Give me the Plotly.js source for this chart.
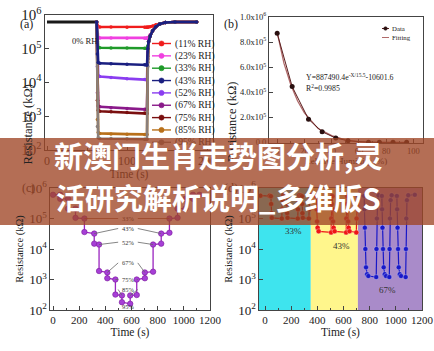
<!DOCTYPE html>
<html><head><meta charset="utf-8">
<script src="https://cdn.plot.ly/plotly-3.0.1.min.js"></script>
<style>html,body{margin:0;padding:0;background:#fff;}#chart{width:434px;height:351px;}</style>
</head><body><div id="chart"></div>
<script>
// ---------- Panel (a): resistance vs time at each RH ----------
const rhLabels = ['(11% RH)','(23% RH)','(33% RH)','(43% RH)','(52% RH)','(67% RH)','(75% RH)','(85% RH)','(95% RH)'];
const rhColors = ['#f01c1c','#f040e0','#1f9a2a','#1a1f80','#8a3df0','#8a1a8a','#7a0f0f','#b8701a','#8a7f7a'];
const t0 = [0, 10, 20, 30, 40, 50, 60, 62];
const r0 = [6.2e5, 6.2e5, 6.2e5, 6.1e5, 6.2e5, 6.2e5, 6.2e5, 6.2e5];
const tA = [62, 63, 64, 66, 80, 100, 122, 124, 125, 126, 127, 129, 132, 136, 141, 148, 160, 187];
const rA11 = [6.2e5, 4.7e5, 4.45e5, 4.4e5, 4.4e5, 4.35e5, 4.3e5, 4.3e5, 4.3e5, 4.35e5, 4.4e5, 4.5e5, 4.7e5, 5.1e5, 5.5e5, 6e5, 6.2e5, 6.2e5];
const rA23 = [6.2e5, 2.8e5, 2.15e5, 2.1e5, 2.08e5, 2.05e5, 2.03e5, 2.03e5, 2.03e5, 2.1e5, 2.2e5, 2.6e5, 3.4e5, 4.5e5, 5.4e5, 6e5, 6.2e5, 6.2e5];
const rA33 = [6.2e5, 1.6e5, 1.1e5, 1.07e5, 1.06e5, 1.05e5, 1.04e5, 1.04e5, 1.04e5, 1.2e5, 1.6e5, 2.4e5, 3.4e5, 4.5e5, 5.4e5, 6e5, 6.2e5, 6.2e5];
const rA43 = [6.2e5, 7e4, 3.9e4, 3.7e4, 3.6e4, 3.45e4, 3.35e4, 3.3e4, 3.3e4, 1e5, 1.6e5, 2.4e5, 3.4e5, 4.5e5, 5.4e5, 6e5, 6.2e5, 6.2e5];
const rA52 = [6.2e5, 3e4, 1.6e4, 1.5e4, 1.4e4, 1.3e4, 1.22e4, 1.2e4, 1.2e4, 8e4, 1.6e5, 2.4e5, 3.4e5, 4.5e5, 5.4e5, 6e5, 6.2e5, 6.2e5];
const rA67 = [6.2e5, 5e3, 2e3, 1.9e3, 1.8e3, 1.7e3, 1.6e3, 1.6e3, 1.6e3, 6e4, 1.6e5, 2.4e5, 3.4e5, 4.5e5, 5.4e5, 6e5, 6.2e5, 6.2e5];
const rA75 = [6.2e5, 3e3, 1.5e3, 1.4e3, 1.35e3, 1.3e3, 1.25e3, 1.2e3, 1.2e3, 5e4, 1.6e5, 2.4e5, 3.4e5, 4.5e5, 5.4e5, 6e5, 6.2e5, 6.2e5];
const rA85 = [6.2e5, 8e2, 3.3e2, 3.1e2, 3e2, 2.95e2, 2.9e2, 2.9e2, 2.9e2, 4e4, 1.6e5, 2.4e5, 3.4e5, 4.5e5, 5.4e5, 6e5, 6.2e5, 6.2e5];
const rA95 = [6.2e5, 5e2, 2.3e2, 2.2e2, 2.2e2, 2.15e2, 2.1e2, 2.1e2, 2.1e2, 3e4, 1.6e5, 2.4e5, 3.4e5, 4.5e5, 5.4e5, 6e5, 6.2e5, 6.2e5];
const seriesA = [rA11, rA23, rA33, rA43, rA52, rA67, rA75, rA85, rA95];
const ticksA = [0, 100, 200];

// ---------- Panel (b): resistance vs humidity ----------
const rhB = [0, 11, 23, 33, 43, 52, 67, 75, 85, 95];
const resB = [8.7e5, 4.45e5, 1.85e5, 8.5e4, 3.4e4, 1.3e4, 1.6e3, 1.2e3, 3e2, 2e2];
const fitX = [0, 5, 10, 15, 20, 25, 30, 40, 50, 60, 70, 80, 90, 95];
const fitY = [8.77e5, 6.3e5, 4.6e5, 3.3e5, 2.35e5, 1.7e5, 1.1e5, 5.4e4, 2e4, 4e3, -2e3, -6e3, -8e3, -9e3];
const ticksBy = [0, 2e5, 4e5, 6e5, 8e5, 1e6];
const tickTextBy = ['0.0', '2.0x10<sup>5</sup>', '4.0x10<sup>5</sup>', '6.0x10<sup>5</sup>', '8.0x10<sup>5</sup>', '1.0x10<sup>6</sup>'];
const ticksBx = [0, 20, 40, 60, 80, 100];

// ---------- Panel (c): stepwise RH up and down ----------
const tC = [0, 55, 55, 115, 115, 172, 172, 240, 240, 315, 315, 352, 352, 415, 415, 477, 477, 527, 527, 590, 590, 640, 640, 702, 702, 765, 765, 827, 827, 890, 890, 952, 952, 1012, 1012, 1070, 1070, 1120];
const rC = [6e5, 6e5, 4.4e5, 4.4e5, 2.1e5, 2.1e5, 1.05e5, 1.0e5, 3.6e4, 3.2e4, 1.5e4, 1.4e4, 1.9e3, 1.7e3, 1.1e3, 1.0e3, 3.2e2, 3e2, 1.8e2, 1.6e2, 3e2, 3.1e2, 1e3, 1.1e3, 1.7e3, 1.8e3, 1.4e4, 1.5e4, 3.2e4, 3.4e4, 1e5, 1.05e5, 2.1e5, 2.1e5, 4.4e5, 4.4e5, 6e5, 6e5];
const stepLabels = ['33%', '43%', '52%', '67%', '75%', '85%', '95%'];
const stepLabelR = [1e5, 4.7e4, 1.67e4, 3.5e3, 1e3, 4.7e2, 1.28e2];
const stepLeftT = [240, 315, 352, 415, 477, 527, null];
const stepRightT = [890, 827, 765, 702, 640, 590, null];
const stepLevel = [1.0e5, 3.2e4, 1.4e4, 1.7e3, 1.0e3, 3.0e2, null];
const stepLabelT = 573;

// ---------- Panel (d): repeated cycles ----------
const d33t = [-35, 35, 45, 47, 49, 52, 128, 130, 133, 140, 155, 165, 167, 169, 172, 250, 252, 255, 262, 272, 282, 284, 286, 289, 335, 337, 340, 347];
const d33r = [5.6e5, 5.6e5, 5.4e5, 3e5, 1.5e5, 1.05e5, 1.0e5, 2e5, 4e5, 5.8e5, 5.7e5, 5.4e5, 3e5, 1.5e5, 1.05e5, 1.0e5, 2e5, 4e5, 5.8e5, 5.7e5, 5.4e5, 3e5, 1.5e5, 1.05e5, 1.0e5, 2e5, 4e5, 5.8e5];
const d43t = [352, 392, 395, 398, 402, 410, 505, 507, 510, 513, 515, 517, 520, 524, 532, 620, 622, 625, 628, 630, 632, 635, 639, 646, 698, 700, 703, 710];
const d43r = [5.6e5, 5.5e5, 2e5, 8e4, 5e4, 3.8e4, 3.5e4, 1e5, 3e5, 5.5e5, 5.4e5, 2e5, 8e4, 5e4, 3.8e4, 3.5e4, 1e5, 3e5, 5.5e5, 5.4e5, 2e5, 8e4, 5e4, 3.8e4, 3.5e4, 1e5, 3e5, 5.5e5];
const d67t = [712, 758, 760, 763, 767, 772, 780, 790, 850, 852, 855, 860, 868, 893, 895, 898, 902, 907, 915, 925, 950, 952, 955, 960, 968, 1008, 1010, 1013, 1017, 1022, 1030, 1040, 1075, 1077, 1080, 1085, 1095, 1145];
const d67r = [5.6e5, 5.5e5, 2e5, 5e4, 1e4, 2.5e3, 1.5e3, 1.3e3, 1.2e3, 1e4, 1e5, 4e5, 5.8e5, 5.5e5, 2e5, 5e4, 1e4, 2.5e3, 1.5e3, 1.3e3, 1.2e3, 1e4, 1e5, 4e5, 5.8e5, 5.5e5, 2e5, 5e4, 1e4, 2.5e3, 1.5e3, 1.3e3, 1.2e3, 1e4, 1e5, 4e5, 5.8e5, 6e5];
const bandEdges = [-46, 350, 710, 1200];
const bandColors = ['#3ee4ee', '#fff68c', '#a98bc9'];
const bandLabels = ['33%', '43%', '67%'];
const bandLabelT = [218, 586, 936];
const bandLabelR = [4e4, 1.3e4, 4.4e2];

// ---------- banner ----------
const bannerLines = ['新澳门生肖走势图分析,灵', '活研究解析说明_多维版S'];

// ---------- helpers ----------
const W = 434, H = 351;
const px = v => v / W;
const py = v => 1 - v / H;
const serif = 'Liberation Serif, Times New Roman, serif';
const under = '#833d24';   // dark text tinted by the overlying banner
const L10 = Math.log10;
const logFrac = v => (L10(v) - 2) / 4;   // position inside a 10^2..10^6 log axis

function axis(extra) {
  return Object.assign({
    showline: true, mirror: true, linecolor: '#444', linewidth: 1,
    ticks: 'inside', ticklen: 4, tickcolor: '#444', showgrid: false, zeroline: false,
    tickfont: {family: serif, size: 11, color: '#222'}
  }, extra);
}

const traces = [];
// (a)
traces.push({x: t0, y: r0, xaxis: 'x', yaxis: 'y', mode: 'lines', line: {color: '#1a1a1a', width: 3.2}, name: '0% RH', showlegend: false});
[0, 1, 2, 4, 5, 6, 7, 8, 3].forEach(i => {
  traces.push({x: tA, y: seriesA[i], xaxis: 'x', yaxis: 'y', mode: 'lines+markers', name: rhLabels[i],
    line: {color: rhColors[i], width: 2.6}, marker: {size: 3.5, color: rhColors[i]}, showlegend: false});
});
// (b)
traces.push({x: fitX, y: fitY, xaxis: 'x2', yaxis: 'y2', mode: 'lines', name: 'Fitting', line: {color: '#b06a6a', width: 1.3}, showlegend: false});
traces.push({x: rhB, y: resB, xaxis: 'x2', yaxis: 'y2', mode: 'lines+markers', name: 'Data', line: {color: '#5a1e1e', width: 1}, marker: {size: 5, color: '#2a1010'}, showlegend: false});
// (c)
traces.push({x: tC, y: rC, xaxis: 'x3', yaxis: 'y3', mode: 'lines+markers', name: 'RH steps',
  line: {color: '#9a25c0', width: 1.3}, marker: {size: 5.5, color: '#a63fd6', line: {color: '#7a1a9a', width: 0.6}}, showlegend: false});
// (d)
[[d33t, d33r, '#7a0a0a'], [d43t, d43r, '#ee1515'], [d67t, d67r, '#1818c8']].forEach(([t, r, c], k) => {
  traces.push({x: t, y: r, xaxis: 'x4', yaxis: 'y4', mode: 'lines+markers', name: bandLabels[k],
    line: {color: c, width: 1.2}, marker: {size: 5, color: c, line: {color: 'rgba(255,255,255,0.5)', width: 0.6}}, showlegend: false});
});

const shapes = [];
const annotations = [];
// (d) coloured bands
for (let k = 0; k < bandColors.length; k++) {
  shapes.push({type: 'rect', xref: 'x4', yref: 'y4 domain', x0: bandEdges[k], x1: bandEdges[k + 1], y0: 0, y1: 1,
    fillcolor: bandColors[k], line: {width: 0}, layer: 'below'});
}
// (c) guide lines from each step label to the matching plateau ends
stepLabels.forEach((lab, i) => {
  if (stepLeftT[i] === null) return;
  const c = i === 0 ? '#8f4830' : '#666';
  shapes.push({type: 'line', xref: 'x3', yref: 'y3 domain', x0: stepLabelT - 75, y0: logFrac(stepLabelR[i]), x1: stepLeftT[i], y1: logFrac(stepLevel[i]),
    line: {color: c, width: 0.8}, layer: 'above'});
  shapes.push({type: 'line', xref: 'x3', yref: 'y3 domain', x0: stepLabelT + 75, y0: logFrac(stepLabelR[i]), x1: stepRightT[i], y1: logFrac(stepLevel[i]),
    line: {color: c, width: 0.8}, layer: 'above'});
});
// (a) legend (drawn manually, compact spacing)
rhLabels.forEach((lab, i) => {
  const y = 43.5 + 12.35 * i;
  shapes.push({type: 'line', xref: 'paper', yref: 'paper', x0: px(152), x1: px(171), y0: py(y), y1: py(y), line: {color: rhColors[i], width: 1.4}, layer: 'above'});
  shapes.push({type: 'circle', xref: 'paper', yref: 'paper', xsizemode: 'pixel', ysizemode: 'pixel', xanchor: px(161.5), yanchor: py(y),
    x0: -2.6, x1: 2.6, y0: -2.6, y1: 2.6, fillcolor: rhColors[i], line: {color: rhColors[i], width: 0.5}, layer: 'above'});
  annotations.push({xref: 'paper', yref: 'paper', x: px(172.5), y: py(y), xanchor: 'left', yanchor: 'middle', showarrow: false,
    text: lab, font: {family: serif, size: 9.6, color: y > 138 ? under : '#222'}});
});
// (b) legend
shapes.push({type: 'line', xref: 'paper', yref: 'paper', x0: px(382), x1: px(389), y0: py(28.5), y1: py(28.5), line: {color: '#5a1e1e', width: 1}, layer: 'above'});
shapes.push({type: 'circle', xref: 'paper', yref: 'paper', xsizemode: 'pixel', ysizemode: 'pixel', xanchor: px(385.5), yanchor: py(28.5),
  x0: -1.8, x1: 1.8, y0: -1.8, y1: 1.8, fillcolor: '#2a1010', line: {color: '#2a1010', width: 0.5}, layer: 'above'});
shapes.push({type: 'line', xref: 'paper', yref: 'paper', x0: px(382), x1: px(389), y0: py(37.5), y1: py(37.5), line: {color: '#b06a6a', width: 1}, layer: 'above'});
annotations.push({xref: 'paper', yref: 'paper', x: px(390), y: py(28.5), xanchor: 'left', yanchor: 'middle', showarrow: false, text: 'Data', font: {family: serif, size: 6.8, color: '#222'}});
annotations.push({xref: 'paper', yref: 'paper', x: px(390), y: py(37.5), xanchor: 'left', yanchor: 'middle', showarrow: false, text: 'Fitting', font: {family: serif, size: 6.8, color: '#222'}});

// y-axis titles of the top row (placed close to the tick labels as in the original)
annotations.push({xref: 'paper', yref: 'paper', x: px(18), y: py(82.5), textangle: -90, showarrow: false, text: 'Resistance (kΩ)',
  font: {family: serif, size: 12.5, color: '#222'}});
annotations.push({xref: 'paper', yref: 'paper', x: px(232), y: py(80), textangle: -90, showarrow: false, text: 'Resistance (kΩ)',
  font: {family: serif, size: 12.5, color: '#222'}});

// panel letters
[['(a)', 18, 15, '#222'], ['(b)', 231, 15, '#222'], ['(c)', 20, 188, under], ['(d)', 231, 188, under]].forEach(([t, x, y, c]) => {
  annotations.push({xref: 'paper', yref: 'paper', x: px(x), y: py(y), showarrow: false, text: t, font: {family: serif, size: 12, color: c}});
});
annotations.push({xref: 'paper', yref: 'paper', x: px(70), y: py(33.5), showarrow: false, text: '0% RH', font: {family: serif, size: 8.6, color: '#222'}});
annotations.push({xref: 'paper', yref: 'paper', x: px(304), y: py(70), xanchor: 'left', showarrow: false,
  text: 'Y=887490.4e<sup>-X/15.5</sup>-10601.6', font: {family: serif, size: 7.8, color: '#222'}});
annotations.push({xref: 'paper', yref: 'paper', x: px(304), y: py(80.5), xanchor: 'left', showarrow: false,
  text: 'R<sup>2</sup>=0.9985', font: {family: serif, size: 7.8, color: '#222'}});

// (c) step labels
stepLabels.forEach((lab, i) => {
  annotations.push({xref: 'x3', yref: 'y3', x: stepLabelT, y: L10(stepLabelR[i]), showarrow: false, text: lab,
    font: {family: serif, size: 6.4, color: i === 0 ? under : '#333'}});
});
// (d) band labels
bandLabels.forEach((lab, i) => {
  annotations.push({xref: 'x4', yref: 'y4', x: bandLabelT[i], y: L10(bandLabelR[i]), showarrow: false, text: lab,
    font: {family: serif, size: 9, color: '#333'}});
});

// overlay banner
shapes.push({type: 'rect', xref: 'paper', yref: 'paper', x0: 0, x1: 1, y0: py(225), y1: py(138),
  fillcolor: 'rgba(159,69,37,0.78)', line: {width: 0}, layer: 'above'});
annotations.push({xref: 'paper', yref: 'paper', x: px(217.5), y: py(155), showarrow: false, text: '<b>' + bannerLines[0] + '</b>',
  font: {family: 'Noto Sans CJK SC, sans-serif', size: 29, color: '#ffffff'}});
annotations.push({xref: 'paper', yref: 'paper', x: px(218.5), y: py(197), showarrow: false, text: '<b>' + bannerLines[1] + '</b>',
  font: {family: 'Noto Sans CJK SC, sans-serif', size: 29, color: '#ffffff'}});

const layout = {
  width: W, height: H, margin: {l: 0, r: 0, t: 0, b: 0},
  paper_bgcolor: '#ffffff', plot_bgcolor: '#ffffff', showlegend: false,
  font: {family: serif, color: '#222'},
  xaxis: axis({domain: [px(45), px(213)], anchor: 'y', range: [-2.5, 207.5], tickvals: ticksA, tickfont: {family: serif, size: 12, color: '#222'},
    minor: {ticks: 'inside', ticklen: 2, dtick: 50, tickcolor: '#444'},
    title: {text: 'Time (s)', font: {family: serif, size: 11.5, color: under}, standoff: 2}}),
  yaxis: axis({domain: [py(150), py(15)], anchor: 'x', type: 'log', range: [2, 6], dtick: 1, exponentformat: 'power',
    tickfont: {family: serif, size: 12, color: '#222'}}),
  xaxis2: axis({domain: [px(269), px(423)], anchor: 'y2', range: [-6, 107], tickvals: ticksBx, tickfont: {family: serif, size: 8.5, color: '#222'},
    minor: {ticks: 'inside', ticklen: 2, dtick: 10, tickcolor: '#444'},
    title: {text: 'Relative Humidity (%)', font: {family: serif, size: 9, color: under}, standoff: 2}}),
  yaxis2: axis({domain: [py(143), py(17)], anchor: 'x2', range: [-5e3, 1e6], tickvals: ticksBy, ticktext: tickTextBy,
    tickfont: {family: serif, size: 8.5, color: '#222'}}),
  xaxis3: axis({domain: [px(50), px(210)], anchor: 'y3', range: [-23, 1200], dtick: 200, tick0: 0,
    minor: {ticks: 'inside', ticklen: 2, dtick: 100, tickcolor: '#444'},
    title: {text: 'Time (s)', font: {family: serif, size: 11.5, color: '#222'}, standoff: 1}}),
  yaxis3: axis({domain: [py(310), py(188)], anchor: 'x3', type: 'log', range: [2, 6], dtick: 1, exponentformat: 'power',
    tickfont: {family: serif, size: 10.5, color: '#222'},
    title: {text: 'Resistance (kΩ)', font: {family: serif, size: 10.5, color: '#222'}, standoff: 3}}),
  xaxis4: axis({domain: [px(259), px(422)], anchor: 'y4', range: [-46, 1200], dtick: 200, tick0: 0,
    minor: {ticks: 'inside', ticklen: 2, dtick: 100, tickcolor: '#444'},
    title: {text: 'Time (s)', font: {family: serif, size: 11.5, color: '#222'}, standoff: 1}}),
  yaxis4: axis({domain: [py(310), py(188)], anchor: 'x4', type: 'log', range: [2, 6], dtick: 1, exponentformat: 'power',
    tickfont: {family: serif, size: 10.5, color: '#222'},
    title: {text: 'Resistance (kΩ)', font: {family: serif, size: 10.5, color: '#222'}, standoff: 3}}),
  shapes: shapes,
  annotations: annotations
};

Plotly.newPlot('chart', traces, layout, {staticPlot: true, displayModeBar: false});
</script>
</body></html>
